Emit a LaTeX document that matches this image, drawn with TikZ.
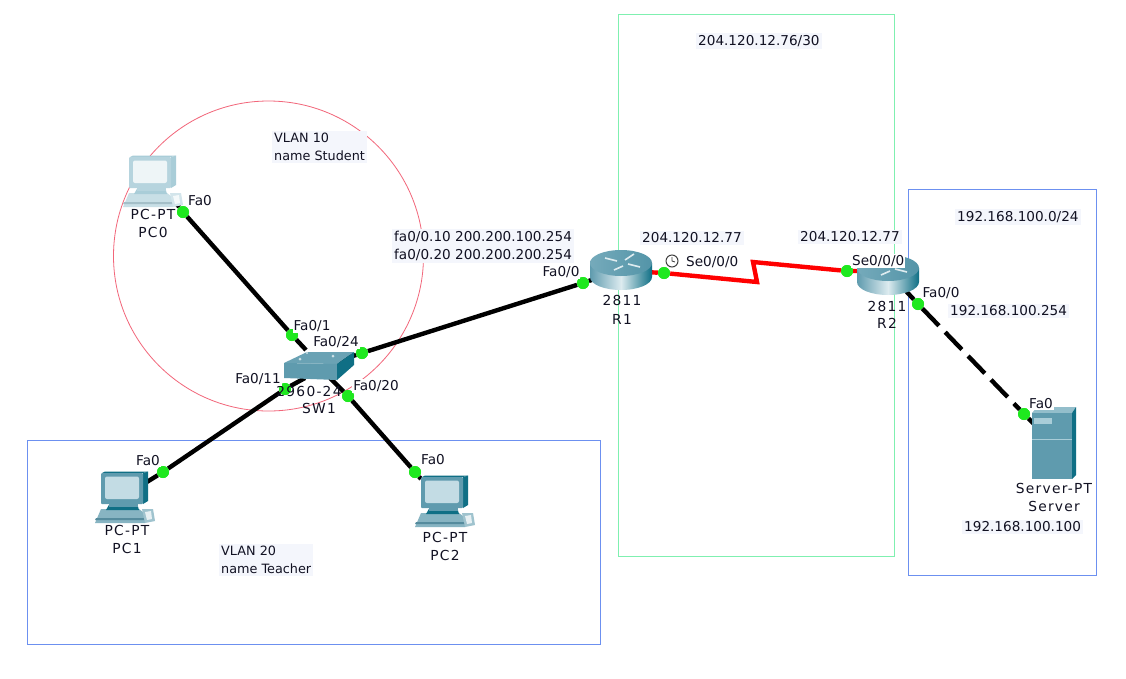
\documentclass[tikz,border=0pt]{standalone}
\usepackage{fontspec}
\setmainfont{DejaVu Sans}
\newfontfamily\devfont[LetterSpace=9]{DejaVu Sans}
\definecolor{labelbg}{HTML}{F4F6FC}
\definecolor{vlanblue}{HTML}{6C90F0}
\definecolor{zonegreen}{HTML}{7FF0B0}
\definecolor{circlered}{HTML}{F2667A}
\definecolor{portgreen}{HTML}{1FE81F}
\definecolor{metal}{HTML}{5F9BAE}
\definecolor{metaldark}{HTML}{0F6F85}
\definecolor{metallight}{HTML}{A9CDD8}
\definecolor{inkc}{HTML}{111122}
\tikzset{
  lbl/.style={font=\fontsize{13.6}{16}\selectfont, inner sep=0.5pt, text=inkc},
  bglbl/.style={lbl, fill=labelbg, inner sep=2pt, anchor=west},
  port/.style={lbl, fill=white, inner sep=1pt},
  devlbl/.style={lbl, font=\devfont\fontsize{13.8}{16}\selectfont, inner sep=0pt},
  dot/.style={circle, fill=portgreen, inner sep=0pt, minimum size=12pt},
  link/.style={line width=4.4pt, black},
  serial/.style={line width=4.4pt, red},
  zone/.style={line width=0.8pt},
}
% x, y, body, dark, screen
\newcommand{\pcicon}[5]{%
\begin{scope}[shift={(#1,#2)}]
  \fill[#3!75!white] (6,38) -- (44,38) -- (52,44) -- (50,52) -- (0,52) -- cycle;
  \fill[#3!90!black] (1,47) -- (50,47) -- (50,49) -- (0,49) -- cycle;
  \fill[#3!60!white] (47,38) -- (58,38) -- (60,50) -- (50,52) -- cycle;
  \fill[white!85!#3] (50,41) -- (56,40) -- (57,48) -- (52,49) -- cycle;
  \fill[#4] (15,32) -- (42,32) -- (44,39) -- (11,39) -- cycle;
  \fill[#3] (14,33) -- (43,33) -- (43,36) -- (14,36) -- cycle;
  \fill[#4] (48,2) -- (53,0.5) -- (53,30) -- (48,33) -- cycle;
  \fill[#4] (7,2) -- (10,0.5) -- (53,0.5) -- (48,2) -- cycle;
  \fill[#3, rounded corners=1pt] (6,2) rectangle (48,33);
  \fill[#5, rounded corners=2pt] (10,5.5) rectangle (44,28);
\end{scope}}
\newcommand{\routericon}[2]{%
\begin{scope}[shift={(#1,#2)}]
  \shade[left color=metal, right color=metaldark, middle color=white!60!metallight]
    (-31,0) -- (-31,14) arc[start angle=180, end angle=0, x radius=31, y radius=13] -- (31,0) -- cycle;
  \shade[left color=metal!70!metallight, right color=metal!85!metaldark] (0,0) ellipse[x radius=31, y radius=13];
  \draw[white!60!metallight, line width=1.6pt] (-16,-5) -- (-4,-2);
  \draw[white!60!metallight, line width=1.6pt] (4,-3) -- (13,-9);
  \draw[white!60!metallight, line width=1.6pt] (-7,7) -- (2,3);
  \draw[white!60!metallight, line width=1.6pt] (7,1) -- (19,4);
\end{scope}}
\begin{document}
\begin{tikzpicture}[x=1pt,y=-1pt]
\useasboundingbox (0,0) rectangle (1126,678);
\fill[white] (0,0) rectangle (1126,678);

% zones
\draw[zone, zonegreen] (618.5,14.5) rectangle (894,556);
\draw[zone, vlanblue] (908,189.5) rectangle (1096,575);
\draw[zone, vlanblue] (27,440.5) rectangle (600,644);
\draw[zone, circlered] (268.5,256) circle[radius=155];

% free ends of the connectors
\coordinate (pc0in) at (176,203);
\coordinate (swa) at (306,350);
\coordinate (swb) at (335,362);
\coordinate (swc) at (305,378);
\coordinate (swd) at (330,378);
\coordinate (pc1in) at (142,485);
\coordinate (pc2in) at (421,479);
\coordinate (r1w) at (600,277);
\coordinate (r1e) at (645,272);
\coordinate (r2w) at (865,271);
\coordinate (r2s) at (905,290);
\coordinate (srv) at (1034,424);
\coordinate (zig1) at (757,282);
\coordinate (zig2) at (753,262);

% port dots
\node[dot] (p0) at (183,212) {};
\node[dot] (s1) at (292,335) {};
\node[dot] (s24) at (362,353) {};
\node[dot] (s11) at (285,389) {};
\node[dot] (s20) at (348,396) {};
\node[dot] (p1) at (163,472) {};
\node[dot] (p2) at (415,472) {};
\node[dot] (r1f) at (583,283) {};
\node[dot] (r1s) at (664,273) {};
\node[dot] (r2se) at (847,271) {};
\node[dot] (r2f) at (918,304) {};
\node[dot] (sv) at (1024,414) {};

% connectors
\draw[link] (pc0in) -- (p0) -- (s1) -- (swa);
\draw[link] (swb) -- (s24) -- (r1f) -- (r1w);
\draw[link] (swc) -- (s11) -- (p1) -- (pc1in);
\draw[link] (swd) -- (s20) -- (p2) -- (pc2in);
\draw[serial] (r1e) -- (r1s) -- (zig1) -- (zig2) -- (r2se) -- (r2w);
\draw[link, dash pattern=on 24pt off 9pt] (r2s) -- (r2f) -- (sv) -- (srv);

% devices
\pcicon{123}{155}{metallight!85!white}{metallight}{white!80!metallight}
\pcicon{95}{471}{metal}{metaldark}{metallight!70!white}
\pcicon{415}{475}{metal}{metaldark}{metallight!70!white}

% switch
\fill[metal!85!metallight] (284,363) -- (307,352) -- (354,352) -- (337,364) -- cycle;
\fill[metal] (284,363) -- (337,364) -- (337,380) -- (284,378) -- cycle;
\fill[metaldark] (354,352) -- (337,364) -- (337,380) -- (354,365) -- cycle;
\fill[white!70!metal] (300,359) circle[radius=1.5] (333,356) circle[radius=1.5] (307,353) circle[radius=1.2];

\routericon{621}{263}
\routericon{888}{268}

% server
\fill[metallight!70!metal] (1037,407) -- (1076,407) -- (1072,413) -- (1032,413) -- cycle;
\fill[metal] (1032,413) rectangle (1072,479);
\fill[metaldark] (1072,413) -- (1076,407) -- (1076,475) -- (1072,479) -- cycle;
\fill[metallight] (1034,418) rectangle (1052,424);
\draw[metallight, line width=0.6pt] (1032,439) -- (1072,439);

% clock
\draw[black!75, line width=1pt, fill=white] (672,261) circle[radius=6];
\draw[black!75, line width=0.8pt] (672,257) -- (672,261) -- (675,262);

% re-draw dots over the devices
\node[dot] at (p0) {};
\node[dot] at (s1) {};
\node[dot] at (s24) {};
\node[dot] at (s11) {};
\node[dot] at (s20) {};
\node[dot] at (p1) {};
\node[dot] at (p2) {};
\node[dot] at (r1f) {};
\node[dot] at (r1s) {};
\node[dot] at (r2se) {};
\node[dot] at (r2f) {};
\node[dot] at (sv) {};

% device labels
\node[devlbl] (pc0a) at (153,214) {PC-PT};
\node[devlbl] (pc0b) at (153,232) {PC0};
\node[devlbl] (pc1a) at (127,530) {PC-PT};
\node[devlbl] (pc1b) at (127,548) {PC1};
\node[devlbl] (pc2a) at (445,537) {PC-PT};
\node[devlbl] (pc2b) at (445,555) {PC2};
\node[devlbl] (swm) at (309,391) {2960-24};
\node[devlbl] (swn) at (319,408) {SW1};
\node[devlbl] (r1m) at (622,300) {2811};
\node[devlbl] (r1n) at (622,319) {R1};
\node[devlbl] (r2m) at (887,306) {2811};
\node[devlbl] (r2n) at (887,323) {R2};
\node[devlbl] (sva) at (1054,488) {Server-PT};
\node[devlbl] (svb) at (1054,506) {Server};

% port labels
\node[port] (l0) at (200,201) {Fa0};
\node[port] (l1) at (312,326) {Fa0/1};
\node[port] (l24) at (336,342) {Fa0/24};
\node[port] (l11) at (258,379) {Fa0/11};
\node[port] (l20) at (376,386) {Fa0/20};
\node[port] (lp1) at (148,461) {Fa0};
\node[port] (lp2) at (433,460) {Fa0};
\node[port] (lr1f) at (561,272) {Fa0/0};
\node[port, anchor=west] (lr1s) at (685,262) {Se0/0/0};
\node[port, anchor=west] (lr2s) at (851,261) {Se0/0/0};
\node[port] (lr2f) at (941,293) {Fa0/0};
\node[port] (lsv) at (1041,404) {Fa0};

% notes
\node[bglbl, align=left, font=\fontsize{12.8}{18}\selectfont] (n10) at (272,147) {VLAN 10\\name Student};
\node[bglbl, align=left, font=\fontsize{12.8}{18}\selectfont] (n20) at (219,560) {VLAN 20\\name Teacher};
\node[bglbl, align=left, font=\fontsize{13.6}{18}\selectfont] (nfa) at (392,246) {fa0/0.10 200.200.100.254\\fa0/0.20 200.200.200.254};
\node[bglbl] (nz) at (696,41) {204.120.12.76/30};
\node[bglbl] (nr1) at (640,238) {204.120.12.77};
\node[bglbl] (nr2) at (798,237) {204.120.12.77};
\node[bglbl] (nlan) at (955,217) {192.168.100.0/24};
\node[bglbl] (ngw) at (948,311) {192.168.100.254};
\node[bglbl] (nsv) at (962,527) {192.168.100.100};
\end{tikzpicture}
\end{document}
